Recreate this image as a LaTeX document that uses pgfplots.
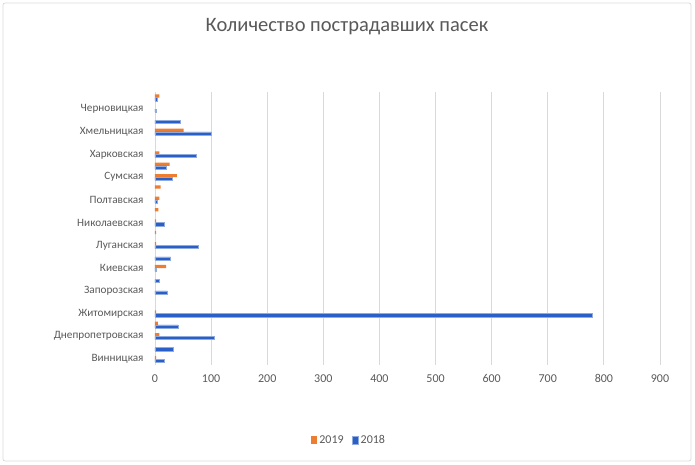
\documentclass[border=0pt]{standalone}
\usepackage{pgfplots}
\pgfplotsset{compat=1.18}
\usepackage{fontspec}
\setmainfont{Carlito}
\definecolor{orng}{HTML}{ED7D31}
\definecolor{blu}{HTML}{2A5FC8}
\definecolor{bluedge}{HTML}{8FAADC}
\definecolor{txt}{HTML}{595959}
\definecolor{grd}{HTML}{D9D9D9}
\begin{document}
\begin{tikzpicture}[x=1pt,y=1pt]
\begin{axis}[
  scale only axis, width=505pt, height=272.7pt,
  clip=false,
  xbar, bar width=3.2pt,
  xmin=0, xmax=900, ymin=0.5, ymax=24.5,
  xtick={0,100,...,900},
  ytick={1,3,...,23},
  yticklabels={Винницкая,Днепропетровская,Житомирская,Запорозская,Киевская,Луганская,Николаевская,Полтавская,Сумская,Харковская,Хмельницкая,Черновицкая},
  major tick length=0pt,
  xmajorgrids, grid style={grd,line width=0.8pt},
  axis line style={draw=none},
  tick label style={text=txt},
  /pgf/number format/assume math mode=true,
  xticklabel style={yshift=-6pt,font=\fontsize{12}{14}\selectfont},
  yticklabel style={xshift=-8pt,font=\fontsize{11.2}{13}\selectfont},
  legend style={at={(0.384,-0.276)},anchor=center,draw=none,legend columns=2,
    font=\fontsize{12}{14}\selectfont,text=txt,
    /tikz/every even column/.append style={column sep=6pt}},
  legend image code/.code={\fill[#1] (0pt,-3.8pt) rectangle (6.5pt,3.8pt);},
]
\addplot[fill=orng,draw=none,bar shift=1.6pt] coordinates {
(2,1) (8,3) (5,4) (2,5) (20,9) (2,11) (2,12) (2,13) (6,14) (8,15) (10,16) (39,17) (26,18) (8,19) (51,21) (8,24)};
\addlegendentry{2019}
\addplot[fill=blu,draw=bluedge,line width=0.5pt,bar shift=-1.6pt] coordinates {
(16,1) (33,2) (105,3) (41,4) (780,5) (22,7) (8,8) (2,9) (28,10) (77,11) (16,13) (4,15) (31,17) (20,18) (73,19) (100,21) (45,22) (2,23) (4,24)};
\addlegendentry{2018}
\coordinate (bl) at (axis description cs:0,0);
\end{axis}
\pgfresetboundingbox
\useasboundingbox ([shift={(-155pt,-99.3pt)}]bl) rectangle ([shift={(540pt,364.7pt)}]bl);
\draw[grd,rounded corners=2pt,line width=0.8pt] ([shift={(-152pt,-96.3pt)}]bl) rectangle ([shift={(536pt,361.7pt)}]bl);
\node[text=txt,font=\fontsize{20.5}{24}\selectfont] at ([shift={(192pt,337.7pt)}]bl) {Количество пострадавших пасек};
\end{tikzpicture}
\end{document}
